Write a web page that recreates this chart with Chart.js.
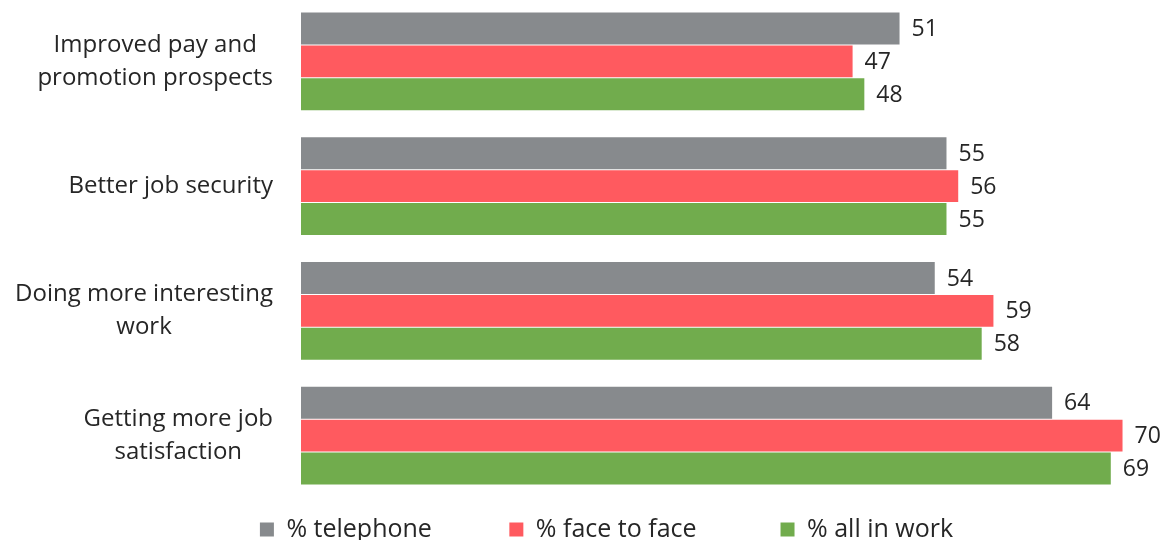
<!DOCTYPE html>
<html>
<head>
<meta charset="utf-8">
<script src="https://cdn.jsdelivr.net/npm/chart.js@4/dist/chart.umd.min.js"></script>
<style>
  html, body { margin: 0; padding: 0; background: #fff; overflow: hidden; }
  #wrap { width: 1163px; height: 541px; margin-top: -1px; }
</style>
</head>
<body>
<div id="wrap"><canvas id="chart"></canvas></div>
<script>
const categories = [
  ["Improved pay and", "promotion prospects"],
  ["Better job security"],
  ["Doing more interesting", "work"],
  ["Getting more job", "satisfaction"]
]
const seriesNames = ["% telephone", "% face to face", "% all in work"]
const telephone = [51, 55, 54, 64]
const faceToFace = [47, 56, 59, 70]
const allInWork = [48, 55, 58, 69]

const colors = ["#878a8d", "#ff5a5f", "#71ac4d"]
const fontFamily = "'Open Sans', sans-serif"
const textColor = "#262626"

// value labels at the end of each bar
const valueLabels = {
  id: "valueLabels",
  afterDatasetsDraw(chart) {
    const ctx = chart.ctx
    ctx.save()
    ctx.font = "23px " + fontFamily
    ctx.fillStyle = textColor
    ctx.textAlign = "left"
    ctx.textBaseline = "middle"
    chart.data.datasets.forEach((ds, i) => {
      chart.getDatasetMeta(i).data.forEach((bar, j) => {
        ctx.fillText(ds.data[j], bar.x + 12, bar.y + 1)
      })
    })
    ctx.restore()
  }
}

// category labels: block right-aligned, lines centred inside the block
const categoryLabels = {
  id: "categoryLabels",
  afterDraw(chart) {
    const ctx = chart.ctx
    const yScale = chart.scales.y
    const right = 273
    const lineHeight = 33
    ctx.save()
    ctx.font = "24px " + fontFamily
    ctx.fillStyle = textColor
    ctx.textAlign = "center"
    ctx.textBaseline = "middle"
    categories.forEach((lines, i) => {
      const w = Math.max(...lines.map((l) => ctx.measureText(l).width))
      const cx = right - w / 2
      const cy = yScale.getPixelForValue(i)
      lines.forEach((line, k) => {
        ctx.fillText(line, cx, cy + (k - (lines.length - 1) / 2) * lineHeight)
      })
    })
    ctx.restore()
  }
}

// extra space after legend entries to spread them out
const gaps = ["         ", "          ", ""]

new Chart(document.getElementById("chart"), {
  type: "bar",
  data: {
    labels: categories,
    datasets: [
      { label: seriesNames[0], data: telephone, backgroundColor: colors[0] },
      { label: seriesNames[1], data: faceToFace, backgroundColor: colors[1] },
      { label: seriesNames[2], data: allInWork, backgroundColor: colors[2] }
    ]
  },
  options: {
    indexAxis: "y",
    responsive: true,
    maintainAspectRatio: false,
    animation: false,
    datasets: {
      bar: { categoryPercentage: 0.79, barPercentage: 0.97 }
    },
    layout: { padding: { top: 0, right: 17, bottom: -12, left: 67 } },
    scales: {
      x: { display: false, min: 0, max: 72 },
      y: {
        grid: { display: false },
        border: { display: false },
        ticks: { display: false },
        afterFit: (scale) => { scale.width = 234 }
      }
    },
    plugins: {
      legend: {
        position: "bottom",
        labels: {
          font: { family: fontFamily, size: 25 },
          color: textColor,
          boxWidth: 14,
          boxHeight: 14,
          padding: 19,
          generateLabels: (chart) => {
            const items = Chart.defaults.plugins.legend.labels.generateLabels(chart)
            items.forEach((it, i) => {
              it.text = it.text + gaps[i]
              it.lineWidth = 0
            })
            return items
          }
        }
      },
      tooltip: { enabled: false }
    }
  },
  plugins: [valueLabels, categoryLabels]
})
</script>
</body>
</html>
